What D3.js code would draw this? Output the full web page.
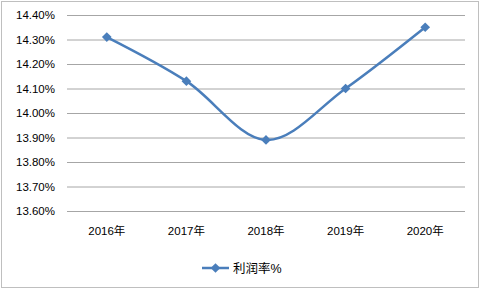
<!DOCTYPE html>
<html>
<head>
<meta charset="utf-8">
<script src="https://cdn.jsdelivr.net/npm/d3@7"></script>
<style>
  body { margin: 0; background: #fff; }
  text { font-family: "Liberation Sans", "Noto Sans CJK SC", sans-serif; font-size: 11.5px; fill: #000; }
</style>
</head>
<body>
<div id="chart"></div>
<script>
var years = ["2016年", "2017年", "2018年", "2019年", "2020年"];
var rates = [14.31, 14.13, 13.89, 14.10, 14.35];
var yTicks = [13.6, 13.7, 13.8, 13.9, 14.0, 14.1, 14.2, 14.3, 14.4];
var seriesName = "利润率%";

var W = 482, H = 290;
var plotL = 67, plotR = 465, plotT = 15, plotB = 211;
var blue = "#4a7ebb";

var svg = d3.select("#chart").append("svg")
  .attr("width", W)
  .attr("height", H);

// outer frame
svg.append("rect")
  .attr("x", 1.5).attr("y", 1.5)
  .attr("width", 477).attr("height", 286)
  .attr("fill", "#fff")
  .attr("stroke", "#bfbfbf")
  .attr("stroke-width", 1);

var x = d3.scaleBand().domain(years).range([plotL, plotR]);
var y = d3.scaleLinear().domain([13.6, 14.4]).range([plotB, plotT]);

// gridlines + y labels
var yAxis = d3.axisLeft(y)
  .tickValues(yTicks)
  .tickSize(-(plotR - plotL))
  .tickPadding(12)
  .tickFormat(function(d) { return d.toFixed(2) + "%"; });

var gy = svg.append("g")
  .attr("transform", "translate(" + plotL + ",0)")
  .call(yAxis);
gy.select(".domain").remove();
gy.selectAll(".tick line").attr("stroke", "#a6a6a6").attr("stroke-width", 1);
gy.selectAll("text").attr("font-family", null).attr("font-size", null);

// x labels
var xAxis = d3.axisBottom(x).tickSize(0).tickPadding(16);
var gx = svg.append("g")
  .attr("transform", "translate(0," + plotB + ")")
  .call(xAxis);
gx.select(".domain").remove();
gx.selectAll("text").attr("font-family", null).attr("font-size", null);

// line
var line = d3.line()
  .x(function(d, i) { return x(years[i]) + x.bandwidth() / 2; })
  .y(function(d) { return y(d); })
  .curve(d3.curveCardinal.tension(0));

svg.append("path")
  .datum(rates)
  .attr("d", line)
  .attr("fill", "none")
  .attr("stroke", blue)
  .attr("stroke-width", 2.5);

var diamond = d3.symbol().type(d3.symbolDiamond2).size(60);

svg.selectAll(".pt")
  .data(rates)
  .enter().append("path")
  .attr("class", "pt")
  .attr("d", diamond)
  .attr("transform", function(d, i) {
    return "translate(" + (x(years[i]) + x.bandwidth() / 2) + "," + y(d) + ")";
  })
  .attr("fill", blue);

// legend
var lg = svg.append("g").attr("transform", "translate(202,268)");
lg.append("line")
  .attr("x1", 0).attr("x2", 27)
  .attr("stroke", blue).attr("stroke-width", 2.5);
lg.append("path")
  .attr("d", diamond)
  .attr("transform", "translate(13.5,0)")
  .attr("fill", blue);
lg.append("text")
  .attr("x", 31).attr("y", 4.5)
  .style("font-size", "12.5px")
  .text(seriesName);
</script>
</body>
</html>
